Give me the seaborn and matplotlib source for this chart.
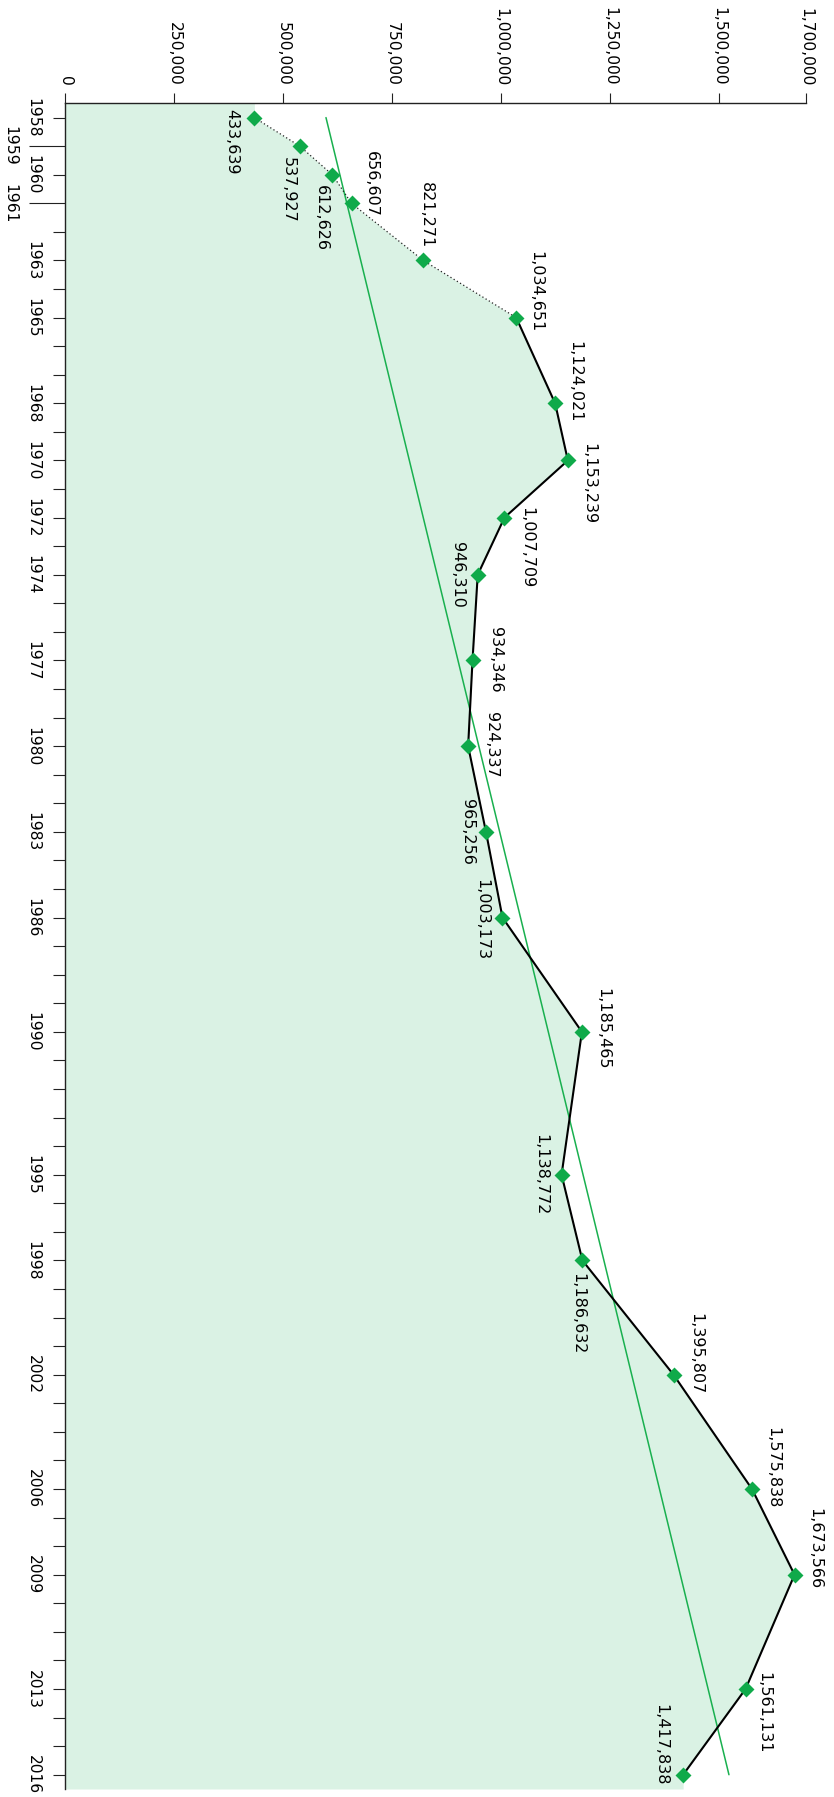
import matplotlib
matplotlib.use("Agg")
import matplotlib.pyplot as plt
import seaborn as sns
from matplotlib.ticker import FixedLocator, FixedFormatter

# ---------------- data ----------------
years = [1958, 1959, 1960, 1961, 1963, 1965, 1968, 1970, 1972, 1974, 1977,
         1980, 1983, 1986, 1990, 1995, 1998, 2002, 2006, 2009, 2013, 2016]
values = [433639, 537927, 612626, 656607, 821271, 1034651, 1124021, 1153239,
          1007709, 946310, 934346, 924337, 965256, 1003173, 1185465, 1138772,
          1186632, 1395807, 1575838, 1673566, 1561131, 1417838]
dotted_until = 1965          # early part of the series drawn dotted
trend_years = [1958, 2016]
trend_values = [598000, 1523000]
value_ticks = [0, 250000, 500000, 750000, 1000000, 1250000, 1500000, 1700000]
value_tick_labels = ["0", "250,000", "500,000", "750,000", "1,000,000",
                     "1,250,000", "1,500,000", "1,700,000"]
staggered_years = [1959, 1961]

# label placement (pixel offsets: right, down) - styling only
label_offsets = [(-23, 24), (-12, 44), (-11, 43), (20, -19), (3, -45), (20, -26),
                 (20, -22), (21, 23), (22, 30), (-20, 0), (23, -1), (23, -1),
                 (-18, 0), (-21, 2), (21, -3), (-21, 0), (-5, 53), (22, -21),
                 (21, -21), (20, -26), (18, 24), (-22, -30)]

# ---------------- style ----------------
sns.set_theme(style="white")
plt.rcParams["font.family"] = ["DejaVu Sans"]

FILL = "#daf2e4"
GREEN = "#0faa4a"
TREND = "#19b04f"
TXT = "#000000"

fig = plt.figure(figsize=(8.34, 17.97), dpi=100)
ax = fig.add_axes([0.0785, 0.00445, 0.8880, 0.93806])

y_top, y_bot = 1957.5, 2016.5
ax.set_ylim(y_bot, y_top)
ax.set_xlim(0, 1700000)

# area fill (extended flat to the plot edges)
fill_years = [y_top] + years + [y_bot]
fill_vals = [values[0]] + values + [values[-1]]
ax.fill_betweenx(fill_years, 0, fill_vals, color=FILL, lw=0, zorder=0)

# trend line
sns.lineplot(x=trend_values, y=trend_years, sort=False, estimator=None,
             color=TREND, lw=1.1, ax=ax, zorder=2)

# series line: dotted early part, solid afterwards
early = [(y, v) for y, v in zip(years, values) if y <= dotted_until]
late = [(y, v) for y, v in zip(years, values) if y >= dotted_until]
sns.lineplot(x=[v for _, v in early], y=[y for y, _ in early], sort=False,
             estimator=None, color="#222222", lw=0.9, linestyle=(0, (1, 2)),
             ax=ax, zorder=3)
sns.lineplot(x=[v for _, v in late], y=[y for y, _ in late], sort=False,
             estimator=None, color="black", lw=1.5, ax=ax, zorder=3)

# markers
sns.scatterplot(x=values, y=years, marker="D", s=66, color=GREEN,
                linewidth=0, ax=ax, zorder=4)

# value labels
for yr, v, (dx, dy) in zip(years, values, label_offsets):
    ax.annotate(f"{v:,}", xy=(v, yr), xytext=(dx, -dy),
                textcoords="offset pixels", rotation=-90,
                ha="center", va="center", fontsize=11.5, color=TXT,
                zorder=5)

# ---------------- axes ----------------
for s in ["right", "bottom"]:
    ax.spines[s].set_visible(False)
for s in ["top", "left"]:
    ax.spines[s].set_visible(True)
    ax.spines[s].set_color("#222222")
    ax.spines[s].set_linewidth(1.0)

ax.xaxis.tick_top()
ax.xaxis.set_major_locator(FixedLocator(value_ticks))
ax.xaxis.set_major_formatter(FixedFormatter(value_tick_labels))
ax.tick_params(axis="x", which="major", top=True, bottom=False,
               labeltop=True, labelbottom=False, length=7.5, width=0.8,
               pad=5, labelsize=11.2, labelrotation=-90, color="#222222",
               labelcolor=TXT, direction="out")

all_years = list(range(1958, 2017))
major_years = [y for y in all_years if y not in staggered_years]
major_labels = [str(y) if y in years else "" for y in major_years]
ax.yaxis.set_major_locator(FixedLocator(major_years))
ax.yaxis.set_major_formatter(FixedFormatter(major_labels))
ax.yaxis.set_minor_locator(FixedLocator(staggered_years))
ax.yaxis.set_minor_formatter(FixedFormatter([str(y) for y in staggered_years]))
ax.tick_params(axis="y", which="major", left=True, length=9, width=0.8,
               pad=9, labelsize=11.2, labelrotation=-90, color="#222222",
               labelcolor=TXT, direction="out")
ax.tick_params(axis="y", which="minor", left=True, length=26, width=0.8,
               pad=9, labelsize=11.2, labelrotation=-90, color="#222222",
               labelcolor=TXT, direction="out")
for lbl in ax.get_yticklabels(which="both"):
    lbl.set_va("center")

ax.set_xlabel("")
ax.set_ylabel("")
ax.grid(False)

fig.savefig("out.png", dpi=100)
